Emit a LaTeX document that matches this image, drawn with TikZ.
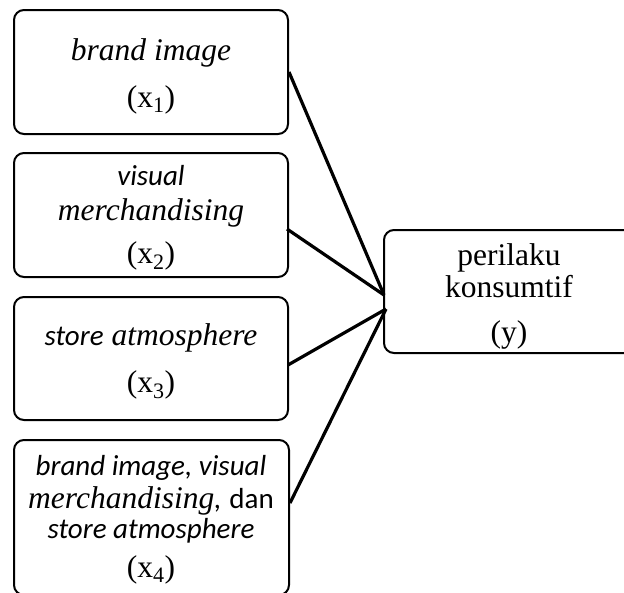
\documentclass[tikz,border=0pt]{standalone}
\usepackage{fontspec}
\setmainfont{Liberation Serif}
\newfontfamily\serit{LiberationSerif-Italic}[Extension=.ttf]
\newfontfamily\calib{Carlito}
\usetikzlibrary{calc}
\begin{document}
\begin{tikzpicture}[x=1pt,y=-1pt,
  box/.style={draw, line width=2pt, rounded corners=10pt, inner sep=0pt},
  link/.style={line width=3.2pt},
  lbl/.style={anchor=base, inner sep=0pt, font=\fontsize{31.5}{34}\selectfont},
  slbl/.style={anchor=base, inner sep=0pt, font=\fontsize{29}{34}\selectfont}]
\useasboundingbox (0,0) rectangle (624,592);
\clip (0,0) rectangle (624,592);
\node[box, minimum width=274pt, minimum height=124pt] (b1) at (151,72) {};
\node[box, minimum width=274pt, minimum height=124pt] (b2) at (151,215) {};
\node[box, minimum width=274pt, minimum height=123pt] (b3) at (151,358.5) {};
\node[box, minimum width=275pt, minimum height=155pt] (b4) at (151.5,517.5) {};
\node[box, minimum width=250pt, minimum height=123pt] (y) at (509,291.5) {};
% texts
\node[lbl] (t1a) at (151,60) {\serit brand image};
\node[lbl] (t1b) at (151,107) {(x\textsubscript{1})};
\node[slbl] (t2a) at (151,185) {\calib\itshape visual};
\node[lbl] (t2b) at (151,220) {\serit merchandising};
\node[lbl] (t2c) at (151,263) {(x\textsubscript{2})};
\node[lbl] (t3a) at (151,345) {{\fontsize{29}{34}\selectfont\calib\itshape store} {\serit atmosphere}};
\node[lbl] (t3b) at (151,392) {(x\textsubscript{3})};
\node[slbl] (t4a) at (151,475) {\calib\itshape brand image, visual};
\node[lbl] (t4b) at (151,508) {{\serit merchandising}{\fontsize{29}{34}\selectfont\calib\itshape ,} {\fontsize{29}{34}\selectfont\calib dan}};
\node[slbl] (t4c) at (151,538) {\calib\itshape store atmosphere};
\node[lbl] (t4d) at (151,577) {(x\textsubscript{4})};
\node[lbl] (ya) at (509,265) {perilaku};
\node[lbl] (yb) at (509,297) {konsumtif};
\node[lbl] (yc) at (509,342) {(y)};
% connectors
\coordinate (s2) at ($(b2.east)+(-2,14)$);
\coordinate (s3) at ($(b3.east)+(-1,6.5)$);
\coordinate (s4) at ($(b4.east)+(0,-14.5)$);
\coordinate (e12) at ($(y.west)+(1,3.5)$);
\coordinate (e34) at ($(y.west)+(3,17.5)$);
\draw[link] (b1.east) -- (e12);
\draw[link] (s2) -- (e12);
\draw[link] (s3) -- (e34);
\draw[link] (s4) -- (e34);
\end{tikzpicture}
\end{document}
